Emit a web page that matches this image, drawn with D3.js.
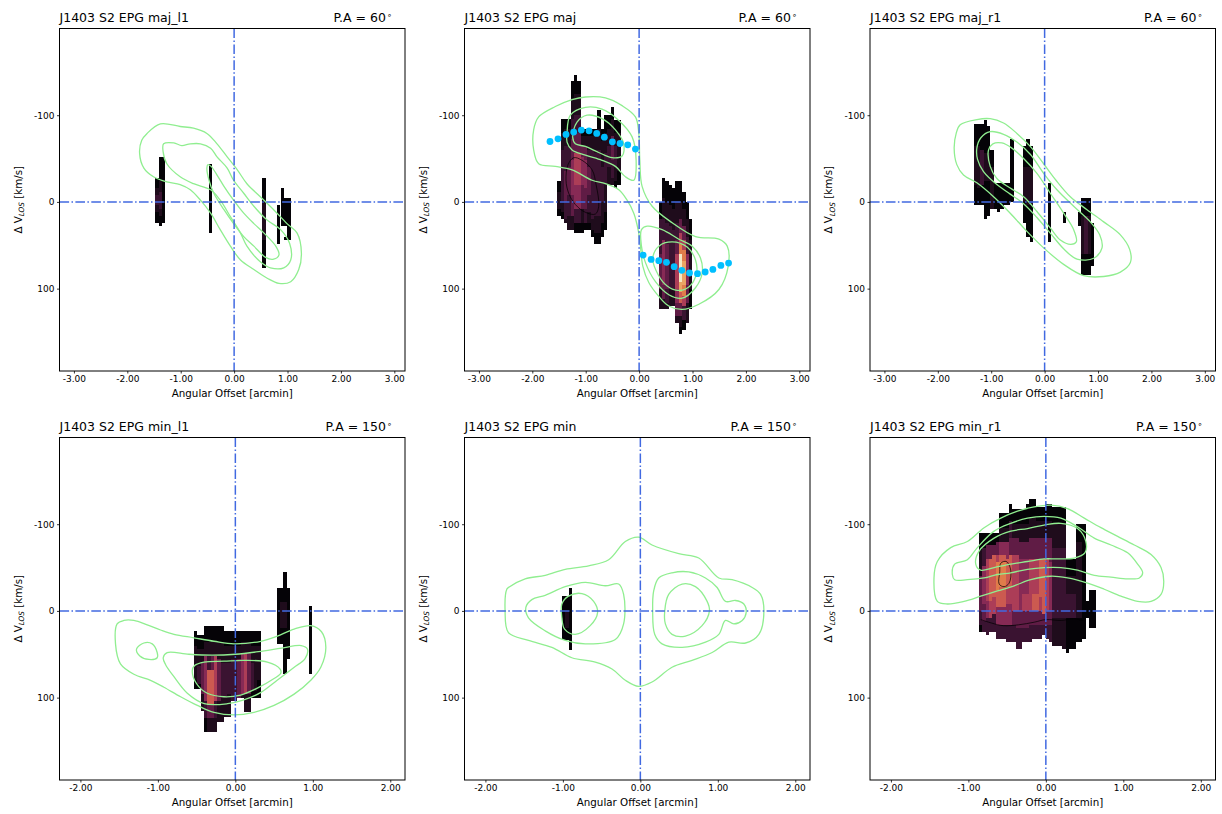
<!DOCTYPE html>
<html>
<head>
<meta charset="utf-8">
<script src="https://cdn.jsdelivr.net/npm/d3@7"></script>
<style>
  body { margin: 0; background: #fff; }
  svg { display: block; font-family: "DejaVu Sans", sans-serif; }
</style>
</head>
<body>
<svg id="fig" width="1222" height="814"></svg>
<script>
// ---------------- data ----------------
const panelNames  = ["maj_l1", "maj", "maj_r1", "min_l1", "min", "min_r1"];
const panelAngles = [60, 60, 60, 150, 150, 150];

const majorOffsetTicks = [-3, -2, -1, 0, 1, 2, 3];
const minorOffsetTicks = [-2, -1, 0, 1, 2];
const velocityTicks    = [-100, 0, 100];
const majorOffsetRange = [-3.27, 3.20];
const minorOffsetRange = [-2.27, 2.19];
const velocityRange    = [-200, 195];

// pixel widths of the PV slices (arcmin)
const majorPixel = 0.0625;
const minorPixel = 0.0431;

// PV intensity slices: [offset, velocity breakpoints (km/s), level per interval ('.' = blank)]
const pvMajL1 = [
  [-1.445, [-28, -16, -8, 4, 12, 24], "01210"],
  [-1.383, [-52, -24, -12, 8, 16, 28], "01210"],
  [-1.321, [-52, 24], "0"],
  [-0.44,  [-44, 36], "0"],
  [0.5625, [-28, 0, 44, 76], "010"],
  [0.837,  [4, 48], "0"],
  [0.90,   [-16, 28], "0"],
  [0.9625, [-4, 28, 40, 44], "0.0"],
  [1.025,  [-4, 44], "0"]
];
const pvMaj = [
  [-1.5,    [-24, -12, 8, 16], "010"],
  [-1.4375, [-96, -80, -60, 0, 12, 20], "01210"],
  [-1.375,  [-96, -84, -64, -36, 0, 20, 24], "012321"],
  [-1.3125, [-96, -84, -64, -40, -8, 16, 32], "012321"],
  [-1.25,   [-140, -120, -96, -72, -48, -8, 16, 32], "0123431"],
  [-1.1875, [-146, -124, -100, -80, -56, -20, 8, 24, 36], "01235420"],
  [-1.125,  [-140, -124, -100, -80, -56, -20, 8, 24, 36], "01235420"],
  [-1.0625, [-84, -76, -64, -52, -20, 8, 24, 36], "0134310"],
  [-1.0,    [-84, -76, -64, -48, -16, 8, 24, 32], "0134320"],
  [-0.9375, [-84, -76, -60, -40, -8, 12, 24, 32], "0123210"],
  [-0.875,  [-84, -76, -60, -36, 0, 20, 32, 40], "0122210"],
  [-0.8125, [-84, -76, -56, -20, 16, 36, 48], "012210"],
  [-0.75,   [-106, -84, -60, -20, 16, 36, 48], "012210"],
  [-0.6875, [-84, -70, -40, 0, 24, 40], "01210"],
  [-0.625,  [-100, -80, -56, -20, 12, 32], "01210"],
  [-0.5625, [-100, -84, -64, -40, -20], "0121"],
  [-0.5,    [-110, -96, -76, -48, -28, -20], "01321"],
  [-0.4375, [-94, -80, -64, -40, -24, -16], "01210"],
  [-0.375,  [-94, -80, -60, -36, -20], "0110"],
  [0.40,    [0, 20, 60, 100, 124], "0231"],
  [0.4625,  [-28, -4, 20, 44, 96, 112, 124], "012431"],
  [0.525,   [-24, 0, 24, 48, 100, 116, 124], "012321"],
  [0.5875,  [-20, 4, 28, 56, 100, 120], "01221"],
  [0.65,    [-16, 8, 32, 60, 100, 120], "01221"],
  [0.7125,  [-24, 0, 24, 44, 60, 100, 116, 132, 140], "01235431"],
  [0.775,   [-24, 0, 20, 36, 48, 60, 92, 104, 116, 132, 144, 152], "01357986310"],
  [0.8375,  [-12, 8, 28, 44, 56, 68, 96, 108, 120, 136, 148], "0135787520"],
  [0.90,    [0, 20, 40, 60, 96, 116, 140], "012431"],
  [0.9625,  [20, 44, 100, 124], "010"]
];
const pvMajR1 = [
  [-1.30,   [-90, -64, -20, 4], "010"],
  [-1.2375, [-90, -64, -16, 4], "010"],
  [-1.175,  [-90, -60, -20, 4], "020"],
  [-1.1125, [-95, -56, -24, 20], "010"],
  [-1.05,   [-88, -56, -24, 16], "010"],
  [-0.9875, [-60, -40, 8], "01"],
  [-0.925,  [-22, 8], "0"],
  [-0.8625, [-22, 12], "0"],
  [-0.80,   [-22, 8], "0"],
  [-0.7375, [-22, 4], "0"],
  [-0.675,  [-22, 4], "0"],
  [-0.6125, [-73, 0], "0"],
  [-0.375,  [-64, -40, 0, 24], "010"],
  [-0.3125, [-72, -40, 4, 40], "010"],
  [-0.25,   [-64, -40, 4, 46], "010"],
  [0.09,    [-22, 46], "0"],
  [0.375,   [12, 24], "0"],
  [0.65,    [12, 28], "0"],
  [0.7125,  [-4, 16, 60, 84], "010"],
  [0.775,   [-4, 16, 60, 84], "020"],
  [0.8375,  [-4, 16, 60, 84], "010"],
  [0.90,    [24, 74], "0"]
];
const pvMinL1 = [
  [-0.513, [23, 40, 80, 90], "010"],
  [-0.470, [28, 44, 64, 84, 90], "0120"],
  [-0.427, [28, 44, 60, 96, 115], "0131"],
  [-0.384, [17, 36, 52, 104, 124, 140], "01420"],
  [-0.341, [17, 36, 52, 68, 108, 124, 140], "012631"],
  [-0.298, [17, 36, 52, 68, 108, 124, 140], "013631"],
  [-0.254, [17, 36, 52, 104, 124, 140], "01521"],
  [-0.211, [17, 36, 56, 104, 128], "0131"],
  [-0.168, [17, 36, 60, 100, 128], "0121"],
  [-0.125, [23, 40, 60, 100, 122], "0121"],
  [-0.082, [23, 40, 60, 96, 122], "0121"],
  [-0.039, [23, 40, 56, 104], "012"],
  [0.004,  [23, 40, 56, 104], "012"],
  [0.047,  [23, 40, 56, 100], "013"],
  [0.090,  [23, 36, 48, 96, 100], "0141"],
  [0.134,  [23, 36, 48, 96, 117], "0151"],
  [0.177,  [23, 36, 48, 96, 117], "0131"],
  [0.220,  [23, 40, 60, 92, 101], "0120"],
  [0.263,  [23, 40, 60, 92, 101], "0110"],
  [0.306,  [23, 40, 80, 101], "010"],
  [0.555,  [-27, 38], "0"],
  [0.598,  [-27, -10, 20, 38], "010"],
  [0.641,  [-45, -10, 20, 73], "010"],
  [0.684,  [-27, 56], "0"],
  [0.970,  [-6, 73], "0"]
];
const pvMin = [
  [-0.990, [-17, 34], "0"],
  [-0.947, [-17, 0, 20, 34], "010"],
  [-0.904, [-27, 45], "0"]
];
const pvMinR1 = [
  [-0.841, [-90, -70, -40, 0, 16, 24], "01320"],
  [-0.798, [-90, -72, -52, -8, 12, 24], "02432"],
  [-0.755, [-90, -76, -60, -12, 8, 28], "03542"],
  [-0.712, [-90, -76, -60, -12, 8, 24], "03652"],
  [-0.669, [-90, -76, -64, -16, 4, 24], "03652"],
  [-0.626, [-90, -80, -64, -56, -24, -4, 16, 32], "0357642"],
  [-0.582, [-113, -96, -80, -64, -56, -28, -4, 16, 32], "01467642"],
  [-0.539, [-113, -96, -80, -64, -56, -28, -4, 16, 32], "01467642"],
  [-0.496, [-113, -96, -80, -60, -28, -8, 16, 36], "0146542"],
  [-0.453, [-123, -104, -84, -64, -28, -8, 16, 36], "0236542"],
  [-0.410, [-117, -100, -84, -64, -24, 0, 16, 36], "0135532"],
  [-0.367, [-117, -100, -84, -64, -24, 0, 20, 44], "0135532"],
  [-0.324, [-117, -100, -80, -60, -20, 0, 20, 44], "0134432"],
  [-0.281, [-117, -100, -80, -60, -20, 0, 20, 36], "0134532"],
  [-0.238, [-123, -100, -80, -60, -20, 0, 20, 36], "0134532"],
  [-0.195, [-129, -108, -84, -60, -20, 0, 16, 36], "0135532"],
  [-0.152, [-129, -108, -84, -60, -20, 0, 16, 32], "0135632"],
  [-0.109, [-120, -104, -84, -60, -20, 0, 16, 32], "0135632"],
  [-0.066, [-120, -104, -84, -60, -16, 0, 16, 32], "0136532"],
  [-0.023, [-120, -104, -84, -60, -16, 4, 16, 28], "0136632"],
  [0.020,  [-123, -104, -84, -60, -20, 0, 16, 32], "0135532"],
  [0.063,  [-123, -104, -84, -56, -20, 0, 16, 36], "0134432"],
  [0.106,  [-120, -100, -72, -24, 8, 40], "01221"],
  [0.149,  [-120, -100, -72, -24, 8, 40], "01221"],
  [0.192,  [-120, -100, -72, -24, 8, 40], "01221"],
  [0.235,  [-120, -100, -72, -24, 8, 44], "01221"],
  [0.278,  [-60, -40, -20, 8, 48], "0120"],
  [0.321,  [-60, -40, -20, 8, 44], "0120"],
  [0.364,  [-60, -40, -20, 8, 44], "0120"],
  [0.407,  [-100, -80, -8, 8, 36], "0110"],
  [0.450,  [-100, -80, -8, 8, 36], "0110"],
  [0.493,  [-100, 32], "0"],
  [0.538,  [-12, 8], "0"],
  [0.581,  [-24, 20], "0"],
  [0.624,  [-24, 20], "0"]
];

// HI column-density contours: closed loops of [offset, velocity]
const hiMajL1 = [
  [[-1.38,-90],[-1.01,-87],[-0.76,-85],[-0.51,-79],[-0.32,-67],[-0.13,-52],[0.06,-37],[0.24,-21],[0.49,-6],[0.74,9],[0.99,25],[1.18,36],[1.26,59],[1.21,78],[1.06,92],[0.84,94],[0.62,88],[0.37,78],[0.12,67],[-0.07,51],[-0.26,32],[-0.44,13],[-0.63,-2],[-0.82,-14],[-1.01,-20],[-1.26,-23],[-1.51,-29],[-1.69,-39],[-1.77,-56],[-1.73,-71],[-1.63,-79]],
  [[-1.32,-67],[-1.13,-68],[-0.98,-65],[-0.82,-67],[-0.63,-67],[-0.44,-62],[-0.32,-52],[-0.13,-39],[-0.01,-25],[0.18,-10],[0.37,5],[0.62,21],[0.87,32],[1.04,48],[1.06,67],[0.93,76],[0.68,76],[0.49,69],[0.24,51],[0.12,36],[-0.07,17],[-0.26,-2],[-0.44,-14],[-0.76,-21],[-1.01,-29],[-1.26,-44],[-1.33,-58]],
  [[-0.49,-43],[-0.43,-41],[-0.32,-31],[-0.19,-18],[-0.01,-2],[0.18,13],[0.37,25],[0.56,36],[0.78,51],[0.84,61],[0.74,66],[0.59,64],[0.37,51],[0.18,40],[-0.01,25],[-0.19,9],[-0.38,-10],[-0.47,-25],[-0.51,-39]]
];
const hiMaj = [
  [[-1.006,-121],[-0.631,-120],[-0.319,-111],[-0.069,-98],[-0.006,-79],[0.013,-48],[0.056,-18],[0.244,5],[0.619,24],[1.056,40],[1.494,43],[1.65,51],[1.669,74],[1.494,101],[1.119,118],[0.806,124],[0.556,120],[0.369,109],[0.181,93],[0.069,74],[0.025,51],[-0.019,32],[-0.1,13],[-0.225,-2],[-0.381,-14],[-0.631,-21],[-0.881,-25],[-1.256,-37],[-1.569,-41],[-1.881,-44],[-1.975,-60],[-1.975,-83],[-1.881,-98],[-1.569,-110],[-1.256,-118]],
  [[-1.35,-79],[-1.288,-100],[-1.006,-109],[-0.694,-107],[-0.381,-94],[-0.131,-75],[-0.056,-48],[-0.1,-25],[-0.256,-29],[-0.444,-41],[-0.694,-48],[-1.006,-54],[-1.256,-60],[-1.35,-69]],
  [[-1.244,-75],[-1.163,-92],[-0.975,-100],[-0.694,-96],[-0.444,-83],[-0.288,-67],[-0.319,-53],[-0.506,-51],[-0.756,-57],[-1.006,-64],[-1.194,-67]],
  [[0.044,32],[0.15,28],[0.431,32],[0.744,43],[0.994,51],[1.15,65],[1.181,82],[1.056,99],[0.806,111],[0.556,107],[0.306,92],[0.119,70],[0.044,51]],
  [[0.256,65],[0.369,51],[0.619,46],[0.9,52],[1.056,67],[1.075,82],[0.931,98],[0.713,102],[0.525,97],[0.356,84]]
];
const hiMajR1 = [
  [[-1.581,-89],[-1.269,-95],[-1.019,-96],[-0.769,-91],[-0.519,-79],[-0.269,-64],[-0.019,-44],[0.213,-25],[0.481,-6],[0.794,9],[1.106,23],[1.419,38],[1.594,55],[1.606,70],[1.419,81],[1.106,86],[0.731,85],[0.356,72],[-0.019,53],[-0.331,34],[-0.644,13],[-0.956,-6],[-1.269,-22],[-1.519,-31],[-1.644,-43],[-1.694,-62],[-1.656,-79]],
  [[-1.269,-62],[-1.194,-74],[-1.019,-81],[-0.769,-78],[-0.519,-69],[-0.269,-55],[-0.019,-33],[0.231,-14],[0.544,5],[0.856,23],[1.031,38],[1.075,53],[0.919,65],[0.606,66],[0.356,54],[0.106,36],[-0.144,18],[-0.394,2],[-0.644,-9],[-0.894,-20],[-1.144,-35],[-1.256,-49]],
  [[-1.05,-60],[-0.969,-67],[-0.8,-68],[-0.613,-62],[-0.394,-50],[-0.144,-33],[0.106,-10],[0.356,13],[0.544,32],[0.594,46],[0.494,49],[0.294,44],[0.106,30],[-0.144,11],[-0.394,-6],[-0.644,-16],[-0.894,-27],[-1.019,-41]]
];
const hiMinL1 = [
  [[-1.526,15],[-1.547,38],[-1.483,61],[-1.31,73],[-1.095,80],[-0.922,88],[-0.707,99],[-0.491,109],[-0.276,117],[-0.017,120],[0.241,117],[0.5,109],[0.759,96],[0.974,80],[1.103,65],[1.168,42],[1.112,24],[0.974,17],[0.759,21],[0.543,29],[0.328,35],[-0.017,38],[-0.276,35],[-0.534,31],[-0.793,27],[-0.966,22],[-1.138,16],[-1.31,11],[-1.44,11]],
  [[-0.931,54],[-0.88,48],[-0.6,50],[-0.3,51],[0.0,50],[0.3,47],[0.6,43],[0.85,40],[0.93,44],[0.9,55],[0.76,65],[0.54,80],[0.33,94],[0.1,103],[-0.1,107],[-0.4,107],[-0.62,95],[-0.8,75],[-0.9,62]],
  [[-0.556,69],[-0.526,63],[-0.405,59],[-0.147,58],[0.112,57],[0.414,59],[0.578,67],[0.586,72],[0.5,78],[0.284,89],[0.069,97],[-0.147,99],[-0.362,95],[-0.5,84]],
  [[-1.276,44],[-1.181,37],[-1.073,38],[-1.009,48],[-1.009,54],[-1.116,56],[-1.233,52]]
];
const hiMin = [
  [[-1.724,-25],[-1.746,0],[-1.703,25],[-1.444,34],[-1.142,42],[-0.884,54],[-0.582,59],[-0.366,67],[-0.194,80],[-0.022,87],[0.151,82],[0.409,65],[0.668,57],[0.927,48],[1.142,36],[1.358,37],[1.53,27],[1.595,0],[1.552,-19],[1.444,-27],[1.185,-36],[1.013,-38],[0.754,-61],[0.496,-66],[0.151,-76],[-0.022,-85],[-0.194,-80],[-0.409,-59],[-0.668,-52],[-0.97,-48],[-1.228,-41],[-1.487,-37],[-1.703,-27]],
  [[-1.478,-4],[-1.401,-13],[-1.228,-18],[-0.97,-28],[-0.711,-33],[-0.453,-29],[-0.28,-31],[-0.216,-19],[-0.216,15],[-0.323,33],[-0.711,38],[-0.97,34],[-1.228,23],[-1.444,8]],
  [[-1.013,-8],[-0.927,-17],[-0.754,-20],[-0.603,-11],[-0.552,2],[-0.647,17],[-0.841,27],[-0.978,21],[-1.013,8]],
  [[0.172,-23],[0.237,-38],[0.409,-44],[0.625,-45],[0.841,-38],[0.991,-27],[1.099,-11],[1.228,-12],[1.336,-8],[1.366,2],[1.315,11],[1.207,15],[1.099,11],[1.013,27],[0.841,36],[0.539,42],[0.28,38],[0.185,27],[0.159,0]],
  [[0.315,0],[0.366,-19],[0.539,-31],[0.711,-28],[0.862,-11],[0.892,0],[0.797,17],[0.582,29],[0.409,27],[0.323,15]]
];
const hiMinR1 = [
  [[-1.444,-38],[-1.401,-57],[-1.228,-73],[-1.013,-80],[-0.797,-96],[-0.582,-107],[-0.366,-115],[-0.151,-120],[0.065,-122],[0.28,-118],[0.496,-107],[0.711,-96],[0.927,-86],[1.142,-76],[1.358,-65],[1.487,-50],[1.522,-34],[1.487,-19],[1.358,-11],[1.185,-11],[0.97,-17],[0.754,-25],[0.539,-32],[0.28,-38],[0.065,-40],[-0.194,-36],[-0.409,-29],[-0.625,-23],[-0.841,-17],[-1.056,-11],[-1.272,-8],[-1.401,-11]],
  [[-1.207,-42],[-1.177,-54],[-1.013,-59],[-0.884,-73],[-0.668,-92],[-0.453,-101],[-0.237,-107],[-0.022,-109],[0.194,-107],[0.409,-97],[0.625,-84],[0.841,-76],[1.056,-67],[1.185,-54],[1.25,-44],[1.207,-38],[1.056,-37],[0.841,-39],[0.625,-41],[0.409,-47],[0.194,-50],[-0.022,-50],[-0.237,-48],[-0.453,-44],[-0.625,-42],[-0.797,-38],[-1.013,-36],[-1.177,-36]],
  [[-0.905,-54],[-0.862,-69],[-0.668,-84],[-0.453,-92],[-0.237,-95],[-0.022,-99],[0.194,-101],[0.409,-95],[0.517,-80],[0.504,-67],[0.366,-61],[0.151,-60],[-0.022,-60],[-0.237,-57],[-0.453,-54],[-0.668,-50],[-0.841,-47]]
];

// intensity contours of the PV slices: [closed?, points]
const pvContoursMaj = [
  [true, [[-1.369,-25],[-1.331,-43],[-1.225,-51],[-1.069,-48],[-0.881,-37],[-0.806,-20],[-0.756,5],[-0.819,14],[-1.006,12],[-1.194,3],[-1.319,-10]]]
];
const pvContoursMinR1 = [
  [true,  [[-0.582,-55],[-0.509,-57],[-0.453,-47],[-0.474,-32],[-0.539,-28],[-0.603,-31],[-0.595,-45]]],
  [false, [[-0.84,10],[-0.7,14],[-0.55,17],[-0.35,16],[-0.15,13],[0.0,10],[0.2,11],[0.35,9],[0.48,11]]]
];

// fitted rotation curve along the major axis
const rotationOffset   = [-1.669,-1.519,-1.369,-1.225,-1.082,-0.938,-0.794,-0.651,-0.501,-0.357,-0.213,-0.069,
                          0.075,0.225,0.368,0.512,0.656,0.80,0.944,1.093,1.237,1.381,1.531,1.675];
const rotationVelocity = [-69.7,-72.8,-77.8,-80.5,-82.8,-82.0,-79.0,-74.7,-69.3,-67.4,-65.9,-60.9,
                          61.3,66.3,67.8,69.7,74.7,78.9,82.0,82.8,80.8,77.8,73.2,70.5];

// ---------------- layout ----------------
const panelLeft = [59.5, 464.5, 870];
const panelTop  = [28.5, 437.5];
const panelW = 345.5, panelH = 342.5;

// intensity level colours (dark maroon through orange to cream)
const levelPalette = ["#050307", "#1f0c1c", "#3a1331", "#601c45", "#872a55", "#ac3d57",
                      "#cc5a50", "#e07c4a", "#eaa463", "#f4e8c4"];
const levelColor = L => levelPalette[L];

const panels = [
  { pv: pvMajL1, hi: hiMajL1, pvc: [], major: true },
  { pv: pvMaj,   hi: hiMaj,   pvc: pvContoursMaj, major: true, curve: true },
  { pv: pvMajR1, hi: hiMajR1, pvc: [], major: true },
  { pv: pvMinL1, hi: hiMinL1, pvc: [], major: false },
  { pv: pvMin,   hi: hiMin,   pvc: [], major: false },
  { pv: pvMinR1, hi: hiMinR1, pvc: pvContoursMinR1, major: false }
];

const svg = d3.select("#fig");

panels.forEach((p, i) => {
  const col = i % 3, row = Math.floor(i / 3);
  const g = svg.append("g").attr("transform", `translate(${panelLeft[col]},${panelTop[row]})`);

  const x = d3.scaleLinear().domain(p.major ? majorOffsetRange : minorOffsetRange).range([0, panelW]);
  const y = d3.scaleLinear().domain(velocityRange).range([0, panelH]);
  const dx = p.major ? majorPixel : minorPixel;

  const clipId = "clip" + i;
  g.append("clipPath").attr("id", clipId)
    .append("rect").attr("width", panelW).attr("height", panelH);
  const plot = g.append("g").attr("clip-path", `url(#${clipId})`);

  // PV slice cells
  const cells = [];
  p.pv.forEach(([off, bp, lv]) => {
    for (let k = 0; k < lv.length; k++) {
      if (lv[k] === ".") continue;
      cells.push({ off, v0: bp[k], v1: bp[k + 1], L: +lv[k] });
    }
  });
  plot.append("g").attr("shape-rendering", "crispEdges")
    .selectAll("rect").data(cells).join("rect")
    .attr("x", d => x(d.off - dx / 2))
    .attr("width", d => x(d.off + dx / 2) - x(d.off - dx / 2))
    .attr("y", d => y(d.v0))
    .attr("height", d => y(d.v1) - y(d.v0))
    .attr("fill", d => levelColor(d.L));

  // intensity contours of the slice
  p.pvc.forEach(([closed, pts]) => {
    const line = d3.line().x(d => x(d[0])).y(d => y(d[1]))
      .curve(closed ? d3.curveCatmullRomClosed : d3.curveCatmullRom);
    plot.append("path").attr("d", line(pts))
      .attr("fill", "none").attr("stroke", "#000").attr("stroke-width", 0.7);
  });

  // HI contours
  const hiLine = d3.line().x(d => x(d[0])).y(d => y(d[1])).curve(d3.curveCatmullRomClosed);
  plot.selectAll("path.hi").data(p.hi).join("path").attr("class", "hi")
    .attr("d", hiLine)
    .attr("fill", "none").attr("stroke", "#90ee90").attr("stroke-width", 1.3);

  // zero lines
  plot.append("line").attr("x1", 0).attr("x2", panelW).attr("y1", y(0)).attr("y2", y(0))
    .attr("stroke", "#4169e1").attr("stroke-width", 1.5).attr("stroke-dasharray", "9.6,2.4,1.5,2.4");
  plot.append("line").attr("x1", x(0)).attr("x2", x(0)).attr("y1", 0).attr("y2", panelH)
    .attr("stroke", "#4169e1").attr("stroke-width", 1.5).attr("stroke-dasharray", "9.6,2.4,1.5,2.4");

  // rotation curve
  if (p.curve) {
    plot.selectAll("circle").data(rotationOffset).join("circle")
      .attr("cx", d => x(d))
      .attr("cy", (d, k) => y(rotationVelocity[k]))
      .attr("r", 3.4).attr("fill", "#00bfff");
  }

  // axes
  const xAxis = d3.axisBottom(x).tickValues(p.major ? majorOffsetTicks : minorOffsetTicks)
    .tickSize(2.5).tickPadding(2.5).tickFormat(d => d.toFixed(2));
  const yAxis = d3.axisLeft(y).tickValues(velocityTicks)
    .tickSize(2.5).tickPadding(2.5).tickFormat(d => String(d));
  const gx = g.append("g").attr("transform", `translate(0,${panelH})`).call(xAxis);
  const gy = g.append("g").call(yAxis);
  [gx, gy].forEach(a => {
    a.select(".domain").remove();
    a.attr("font-family", "DejaVu Sans, sans-serif").attr("font-size", 9);
    a.selectAll("text").attr("fill", "#000");
    a.selectAll("line").attr("stroke", "#000").attr("stroke-width", 0.8);
  });

  g.append("rect").attr("width", panelW).attr("height", panelH)
    .attr("fill", "none").attr("stroke", "#000").attr("stroke-width", 1);

  // labels
  g.append("text").attr("x", panelW / 2).attr("y", panelH + 25.5)
    .attr("text-anchor", "middle").attr("font-size", 10.3)
    .text("Angular Offset [arcmin]");

  const yl = g.append("text")
    .attr("transform", `translate(-38,${panelH / 2}) rotate(-90)`)
    .attr("text-anchor", "middle").attr("font-size", 10.3);
  yl.append("tspan").text("\u0394 V");
  yl.append("tspan").attr("font-size", 7.3).attr("font-style", "italic").attr("dy", 2.5).text("LOS");
  yl.append("tspan").attr("dy", -2.5).text(" [km/s]");

  g.append("text").attr("x", 0).attr("y", -6.5).attr("font-size", 12.5)
    .text(`J1403 S2 EPG ${panelNames[i]}`);

  const pa = g.append("text").attr("x", panelW - 13).attr("y", -6.5)
    .attr("text-anchor", "end").attr("font-size", 12.5);
  pa.append("tspan").text(`P.A = ${panelAngles[i]}`);
  pa.append("tspan").attr("font-size", 8).attr("dy", -4.5).attr("dx", 1).text("\u2218");
});
</script>
</body>
</html>
